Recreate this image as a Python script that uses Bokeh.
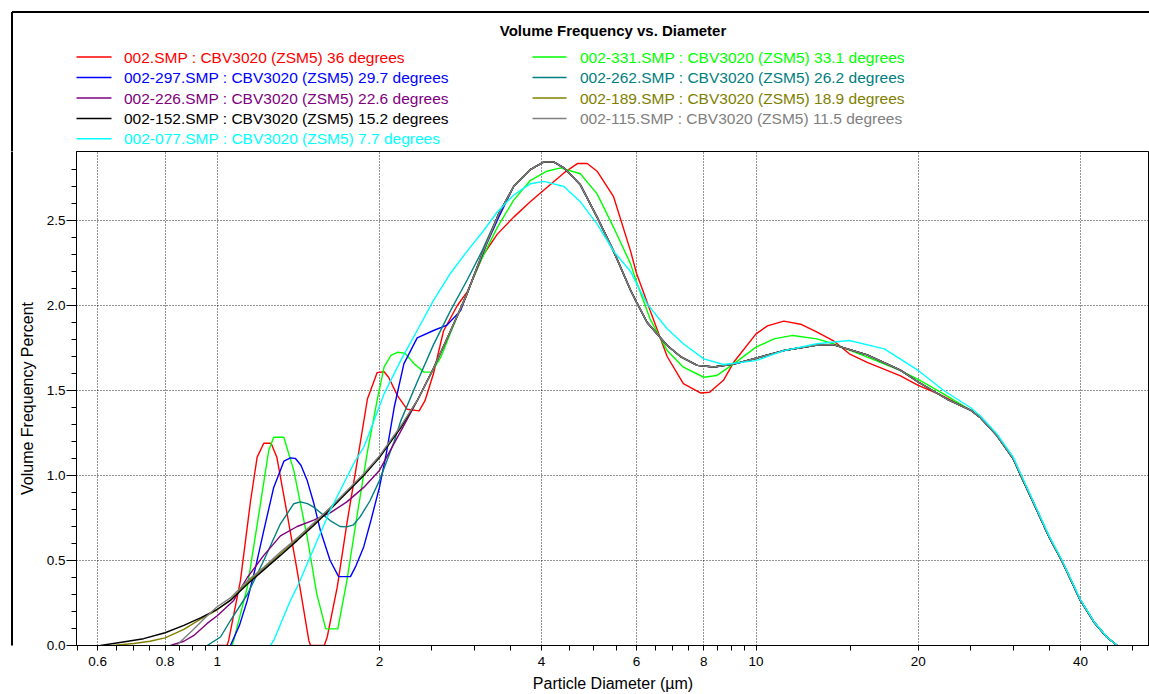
from bokeh.plotting import figure
from bokeh.layouts import column, row
from bokeh.models import Range1d, FixedTicker, CustomJSTickFormatter
from bokeh.core.properties import value
from bokeh.embed import file_html
from bokeh.resources import INLINE

FONT = "Liberation Sans"

# ---------------- axis ticks ----------------
X_MAJOR = [0.6, 0.8, 1, 2, 4, 6, 8, 10, 20, 40]
X_TICK_LABELS = ["0.6", "0.8", "1", "2", "4", "6", "8", "10", "20", "40"]
X_MINOR = [0.55, 0.65, 0.7, 0.75, 0.85, 0.9, 0.95, 2.5, 3, 3.5, 4.5, 5, 5.5,
           6.5, 7, 7.5, 8.5, 9, 9.5, 15, 25, 30, 35, 45, 50]
Y_MAJOR = [0.0, 0.5, 1.0, 1.5, 2.0, 2.5]
Y_TICK_LABELS = ["0.0", "0.5", "1.0", "1.5", "2.0", "2.5"]
Y_MINOR = [0.1, 0.2, 0.3, 0.4, 0.6, 0.7, 0.8, 0.9, 1.1, 1.2, 1.3, 1.4, 1.6, 1.7,
           1.8, 1.9, 2.1, 2.2, 2.3, 2.4, 2.6, 2.7, 2.8]

TITLE = "Volume Frequency vs. Diameter"
X_LABEL = "Particle Diameter (\u00b5m)"
Y_LABEL = "Volume Frequency Percent"

# ---------------- series data ----------------
# shared upper part of the six curves that coincide above ~2.3 um
BASE_TAIL_D = [2.35, 2.52, 2.71, 2.91, 3.10, 3.33, 3.55, 3.81, 4.04, 4.21, 4.40, 4.72,
               5.07, 5.44, 5.85, 6.0, 6.28, 6.84, 7.24, 7.78, 8.35, 9.09, 10.0, 11.26,
               12.98, 13.9, 16.08, 18.53, 20.0, 22.6, 25.0, 26.1, 28.0, 30.0, 31.0,
               32.8, 35.0, 37.0, 40.0, 42.4, 44.8, 46.8]
BASE_TAIL_V = [1.44, 1.63, 1.85, 2.07, 2.30, 2.54, 2.70, 2.80, 2.845, 2.845, 2.81, 2.71,
               2.52, 2.32, 2.09, 2.02, 1.90, 1.765, 1.70, 1.648, 1.638, 1.655, 1.69, 1.735,
               1.768, 1.77, 1.71, 1.62, 1.55, 1.45, 1.385, 1.34, 1.235, 1.10, 1.00,
               0.833, 0.637, 0.494, 0.265, 0.137, 0.049, 0.0]

RED_D = [1.0, 1.043, 1.05, 1.104, 1.153, 1.186, 1.22, 1.259, 1.29, 1.348,
         1.407, 1.479, 1.49, 1.58, 1.6, 1.67, 1.74, 1.82, 1.90, 1.98,
         2.04, 2.08, 2.16, 2.25, 2.37, 2.43, 2.52, 2.63, 2.79, 2.91,
         3.12, 3.31, 3.55, 3.81, 4.04, 4.40, 4.66, 4.86, 5.07, 5.44,
         5.85, 6.0, 6.36, 6.84, 7.33, 7.9, 8.2, 8.7, 9.09, 10.0,
         10.5, 11.26, 12.1, 12.98, 13.9, 14.9, 16.08, 18.5, 20.0, 22.0,
         25.0, 26.1, 28.0, 30.0, 31.0, 32.8, 35.0, 37.0, 40.0, 42.4,
         44.8, 46.8]
RED_V = [0, 0, 0.03, 0.38, 0.85, 1.108, 1.19, 1.19, 1.108, 0.775,
         0.44, 0.03, 0, 0, 0.05, 0.343, 0.716, 1.088, 1.45, 1.605,
         1.61, 1.578, 1.47, 1.39, 1.38, 1.44, 1.60, 1.85, 2.0, 2.08,
         2.30, 2.42, 2.52, 2.61, 2.68, 2.78, 2.835, 2.835, 2.79, 2.64,
         2.32, 2.19, 1.97, 1.70, 1.54, 1.485, 1.49, 1.56, 1.666, 1.833,
         1.88, 1.908, 1.89, 1.843, 1.794, 1.716, 1.666, 1.588, 1.53, 1.475,
         1.385, 1.34, 1.235, 1.10, 1.00, 0.833, 0.637, 0.494, 0.265, 0.137,
         0.049, 0.0]

GREEN_D = [1.066, 1.073, 1.137, 1.203, 1.246, 1.273, 1.329, 1.387, 1.469, 1.53,
           1.59, 1.674, 1.74, 1.82, 1.90, 1.98, 2.04, 2.10, 2.16, 2.23,
           2.32, 2.42, 2.5, 2.6, 2.71, 2.87, 3.08, 3.31, 3.55, 3.81,
           4.09, 4.34, 4.72, 5.07, 5.44, 5.85, 6.0, 6.36, 6.84, 7.33,
           8.0, 8.45, 9.09, 10.0, 10.8, 11.7, 12.98, 13.9, 16.1, 18.5,
           20.0, 22.0, 25.0, 26.1, 28.0, 30.0, 31.0, 32.8, 35.0, 37.0,
           40.0, 42.4, 44.8, 46.8]
GREEN_V = [0, 0.03, 0.343, 0.834, 1.147, 1.225, 1.225, 1.03, 0.637, 0.304,
           0.098, 0.098, 0.38, 0.775, 1.14, 1.44, 1.637, 1.706, 1.725, 1.72,
           1.657, 1.608, 1.608, 1.696, 1.84, 2.03, 2.26, 2.46, 2.62, 2.735,
           2.79, 2.81, 2.775, 2.657, 2.46, 2.245, 2.14, 1.92, 1.735, 1.637,
           1.578, 1.588, 1.657, 1.755, 1.804, 1.824, 1.804, 1.775, 1.696, 1.618,
           1.565, 1.49, 1.385, 1.34, 1.235, 1.10, 1.00, 0.833, 0.637, 0.494,
           0.265, 0.137, 0.049, 0.0]

CYAN_D = [1.255, 1.273, 1.367, 1.407, 1.51, 1.62, 1.74, 1.805, 1.87, 1.90,
          2.04, 2.19, 2.35, 2.52, 2.71, 2.91, 3.12, 3.31, 3.55, 3.81,
          4.04, 4.40, 4.72, 5.07, 5.44, 5.85, 6.0, 6.28, 6.84, 7.33,
          8.0, 8.7, 10.0, 11.26, 12.98, 14.9, 17.3, 20.0, 22.3, 25.0,
          26.1, 28.0, 30.0, 31.0, 32.8, 35.0, 37.0, 40.0, 42.4, 44.8,
          46.8]
CYAN_V = [0, 0.03, 0.265, 0.343, 0.569, 0.794, 0.99, 1.088, 1.167, 1.22,
          1.48, 1.676, 1.853, 2.03, 2.19, 2.32, 2.44, 2.55, 2.65, 2.716,
          2.73, 2.70, 2.61, 2.48, 2.32, 2.20, 2.13, 2.01, 1.863, 1.775,
          1.686, 1.653, 1.676, 1.735, 1.775, 1.794, 1.745, 1.618, 1.50, 1.40,
          1.35, 1.245, 1.11, 1.01, 0.84, 0.645, 0.50, 0.27, 0.14, 0.05,
          0.0]

BLUE_LOW_D = [1.058, 1.10, 1.137, 1.18, 1.22, 1.273, 1.33, 1.367, 1.397, 1.43,
              1.469, 1.51, 1.554, 1.62, 1.68, 1.767, 1.81, 1.87, 1.93, 2.0,
              2.06, 2.13, 2.22, 2.35, 2.52, 2.67, 2.83, 2.99, 3.17, 3.33, 3.55]
BLUE_LOW_V = [0.0, 0.12, 0.265, 0.47, 0.676, 0.93, 1.085, 1.104, 1.10, 1.06,
              0.97, 0.84, 0.676, 0.50, 0.405, 0.405, 0.47, 0.58, 0.74, 0.93,
              1.13, 1.40, 1.657, 1.81, 1.853, 1.885, 1.97, 2.17, 2.37, 2.52, 2.70]

TEAL_LOW_D = [0.958, 1.014, 1.058, 1.137, 1.22, 1.31, 1.387, 1.427, 1.47, 1.51,
              1.62, 1.69, 1.74, 1.79, 1.84, 1.92, 2.0, 2.13, 2.19, 2.35,
              2.52, 2.71, 2.91, 3.10]
TEAL_LOW_V = [0.0, 0.05, 0.147, 0.30, 0.50, 0.716, 0.834, 0.845, 0.835, 0.814,
              0.735, 0.70, 0.698, 0.71, 0.755, 0.85, 0.97, 1.2, 1.32, 1.55,
              1.77, 1.97, 2.15, 2.32]

PURPLE_LOW_D = [0.819, 0.867, 0.905, 0.958, 1.0, 1.073, 1.137, 1.22, 1.31, 1.407,
                1.51, 1.62, 1.74, 1.87, 2.0, 2.19]
PURPLE_LOW_V = [0.0, 0.025, 0.059, 0.13, 0.175, 0.265, 0.40, 0.53, 0.645, 0.70,
                0.737, 0.78, 0.845, 0.93, 1.03, 1.26]

OLIVE_LOW_D = [0.64, 0.70, 0.75, 0.80, 0.867, 0.931, 1.0, 1.058, 1.137, 1.22,
               1.31, 1.41, 1.51, 1.62, 1.74, 1.87, 2.0, 2.19]
OLIVE_LOW_V = [0.0, 0.012, 0.025, 0.045, 0.095, 0.155, 0.21, 0.268, 0.37, 0.455,
               0.54, 0.63, 0.715, 0.81, 0.905, 1.005, 1.11, 1.285]

BLACK_LOW_D = [0.607, 0.66, 0.73, 0.80, 0.867, 0.931, 1.0, 1.058, 1.137, 1.22,
               1.31, 1.41, 1.51, 1.62, 1.74, 1.87, 2.0, 2.19]
BLACK_LOW_V = [0.0, 0.018, 0.04, 0.075, 0.118, 0.163, 0.213, 0.265, 0.36, 0.445,
               0.53, 0.62, 0.706, 0.80, 0.90, 1.0, 1.105, 1.28]

GRAY_LOW_D = [0.84, 0.90, 0.958, 1.0, 1.058, 1.137, 1.22, 1.31, 1.41, 1.51,
              1.62, 1.74, 1.87, 2.0, 2.19]
GRAY_LOW_V = [0.0, 0.09, 0.175, 0.228, 0.28, 0.38, 0.46, 0.55, 0.635, 0.72,
              0.81, 0.91, 1.01, 1.115, 1.29]


def with_tail(low_d, low_v):
    last = low_d[-1]
    d = list(low_d) + [x for x in BASE_TAIL_D if x > last]
    v = list(low_v) + [y for x, y in zip(BASE_TAIL_D, BASE_TAIL_V) if x > last]
    return d, v


SERIES = {
    "red": (RED_D, RED_V),
    "green": (GREEN_D, GREEN_V),
    "blue": with_tail(BLUE_LOW_D, BLUE_LOW_V),
    "teal": with_tail(TEAL_LOW_D, TEAL_LOW_V),
    "purple": with_tail(PURPLE_LOW_D, PURPLE_LOW_V),
    "olive": with_tail(OLIVE_LOW_D, OLIVE_LOW_V),
    "black": with_tail(BLACK_LOW_D, BLACK_LOW_V),
    "gray": with_tail(GRAY_LOW_D, GRAY_LOW_V),
    "cyan": (CYAN_D, CYAN_V),
}
DRAW_ORDER = ["red", "green", "blue", "teal", "purple", "olive", "black", "gray", "cyan"]

COLORS = {
    "red": "#FF0000", "green": "#00FF00", "blue": "#0000FF", "teal": "#008080",
    "purple": "#800080", "olive": "#808000", "black": "#000000", "gray": "#808080",
    "cyan": "#00FFFF",
}

LEGEND_LEFT = [
    ("red", "002.SMP : CBV3020 (ZSM5) 36 degrees"),
    ("blue", "002-297.SMP : CBV3020 (ZSM5) 29.7 degrees"),
    ("purple", "002-226.SMP : CBV3020 (ZSM5) 22.6 degrees"),
    ("black", "002-152.SMP : CBV3020 (ZSM5) 15.2 degrees"),
    ("cyan", "002-077.SMP : CBV3020 (ZSM5) 7.7 degrees"),
]
LEGEND_RIGHT = [
    ("green", "002-331.SMP : CBV3020 (ZSM5) 33.1 degrees"),
    ("teal", "002-262.SMP : CBV3020 (ZSM5) 26.2 degrees"),
    ("olive", "002-189.SMP : CBV3020 (ZSM5) 18.9 degrees"),
    ("gray", "002-115.SMP : CBV3020 (ZSM5) 11.5 degrees"),
]

# ---------------- layout constants (page pixels) ----------------
PAGE_W, PAGE_H = 1149, 694
HEADER_H = 151          # title + legend band
STRIP_W = 14            # left band holding the outer frame line
BORDER_POS = 11.5       # outer frame line position
ROW_Y = [56.6, 77.0, 97.5, 117.9, 138.3]
COLS = [(76, 111, 123.5, LEGEND_LEFT), (532, 566, 579.5, LEGEND_RIGHT)]

# ---------------- header figure (title, legend, outer frame) ----------------
head = figure(width=PAGE_W, height=HEADER_H, x_range=Range1d(0, PAGE_W),
              y_range=Range1d(HEADER_H, 0), min_border=0,
              x_axis_location=None, y_axis_location=None,
              output_backend="svg", toolbar_location=None)
head.outline_line_color = None
head.xgrid.visible = False
head.ygrid.visible = False
head.background_fill_color = "white"
head.border_fill_color = "white"

head.segment(x0=[BORDER_POS, BORDER_POS], y0=[BORDER_POS, BORDER_POS],
             x1=[PAGE_W + 5, BORDER_POS], y1=[BORDER_POS, HEADER_H + 5],
             line_color="black", line_width=2)
head.text(x=[612.5], y=[29.5], text=[TITLE], text_font=value(FONT),
          text_font_size="15px", text_font_style="bold", text_color="black",
          text_align="center", text_baseline="middle")

lx0, lx1, ly, tx, ty, tt, tc = [], [], [], [], [], [], []
for x0, x1, xtext, entries in COLS:
    for (key, txt), ry in zip(entries, ROW_Y):
        lx0.append(x0); lx1.append(x1); ly.append(ry)
        tx.append(xtext); ty.append(ry); tt.append(txt); tc.append(COLORS[key])
head.segment(x0=lx0, y0=ly, x1=lx1, y1=ly, line_color=tc, line_width=1.5)
head.text(x=tx, y=ty, text=tt, text_color=tc, text_font=value(FONT),
          text_font_size="15.5px", text_align="left", text_baseline="middle")

# ---------------- left strip (outer frame line continues down) ----------------
strip = figure(width=STRIP_W, height=PAGE_H - HEADER_H, x_range=Range1d(0, STRIP_W),
               y_range=Range1d(PAGE_H - HEADER_H, 0), min_border=0,
               x_axis_location=None, y_axis_location=None,
               output_backend="svg", toolbar_location=None)
strip.outline_line_color = None
strip.xgrid.visible = False
strip.ygrid.visible = False
strip.background_fill_color = "white"
strip.border_fill_color = "white"
strip.segment(x0=[BORDER_POS], y0=[-5], x1=[BORDER_POS], y1=[PAGE_H],
              line_color="black", line_width=2)

# ---------------- main chart ----------------
p = figure(width=PAGE_W - STRIP_W, height=PAGE_H - HEADER_H, x_axis_type="log",
           x_range=Range1d(0.548, 53.74), y_range=Range1d(0, 2.906),
           output_backend="svg", toolbar_location=None,
           min_border_left=76 - STRIP_W, min_border_right=0, min_border_top=0,
           min_border_bottom=49)
p.background_fill_color = "white"
p.border_fill_color = "white"
p.outline_line_color = "black"
p.outline_line_width = 1

xt = FixedTicker(ticks=X_MAJOR, minor_ticks=X_MINOR)
yt = FixedTicker(ticks=Y_MAJOR, minor_ticks=Y_MINOR)
p.xaxis.ticker = xt
p.yaxis.ticker = yt
p.xgrid.ticker = xt
p.ygrid.ticker = yt

fmt_code = ("const i = tvals.findIndex(t => Math.abs(t - tick) < 1e-9);"
            "return i >= 0 ? tlabels[i] : '';")
p.xaxis.formatter = CustomJSTickFormatter(args=dict(tvals=X_MAJOR, tlabels=X_TICK_LABELS), code=fmt_code)
p.yaxis.formatter = CustomJSTickFormatter(args=dict(tvals=Y_MAJOR, tlabels=Y_TICK_LABELS), code=fmt_code)

for g in (p.xgrid, p.ygrid):
    g.grid_line_color = "black"
    g.grid_line_dash = "1 2"
    g.grid_line_width = 1
    g.grid_line_alpha = 0.85

for ax in (p.xaxis, p.yaxis):
    ax.axis_line_color = "black"
    ax.major_tick_line_color = "black"
    ax.minor_tick_line_color = "black"
    ax.major_tick_in = 0
    ax.minor_tick_in = 0
    ax.major_label_text_font = FONT
    ax.major_label_text_font_size = "13.5px"
    ax.major_label_text_color = "black"
    ax.axis_label_text_font = FONT
    ax.axis_label_text_font_size = "16px"
    ax.axis_label_text_font_style = "normal"
    ax.axis_label_text_color = "black"

p.xaxis.major_tick_out = 5
p.xaxis.minor_tick_out = 5
p.xaxis.major_label_standoff = 6
p.xaxis.axis_label_standoff = 6
p.xaxis.axis_label = X_LABEL

p.yaxis.major_tick_out = 10
p.yaxis.minor_tick_out = 5
p.yaxis.major_label_standoff = 1
p.yaxis.axis_label_standoff = 8
p.yaxis.axis_label = Y_LABEL

for key in DRAW_ORDER:
    d, v = SERIES[key]
    p.line(d, v, line_color=COLORS[key], line_width=1.4)

layout = column(head, row(strip, p))
open("out.html", "w").write(file_html(layout, INLINE))
